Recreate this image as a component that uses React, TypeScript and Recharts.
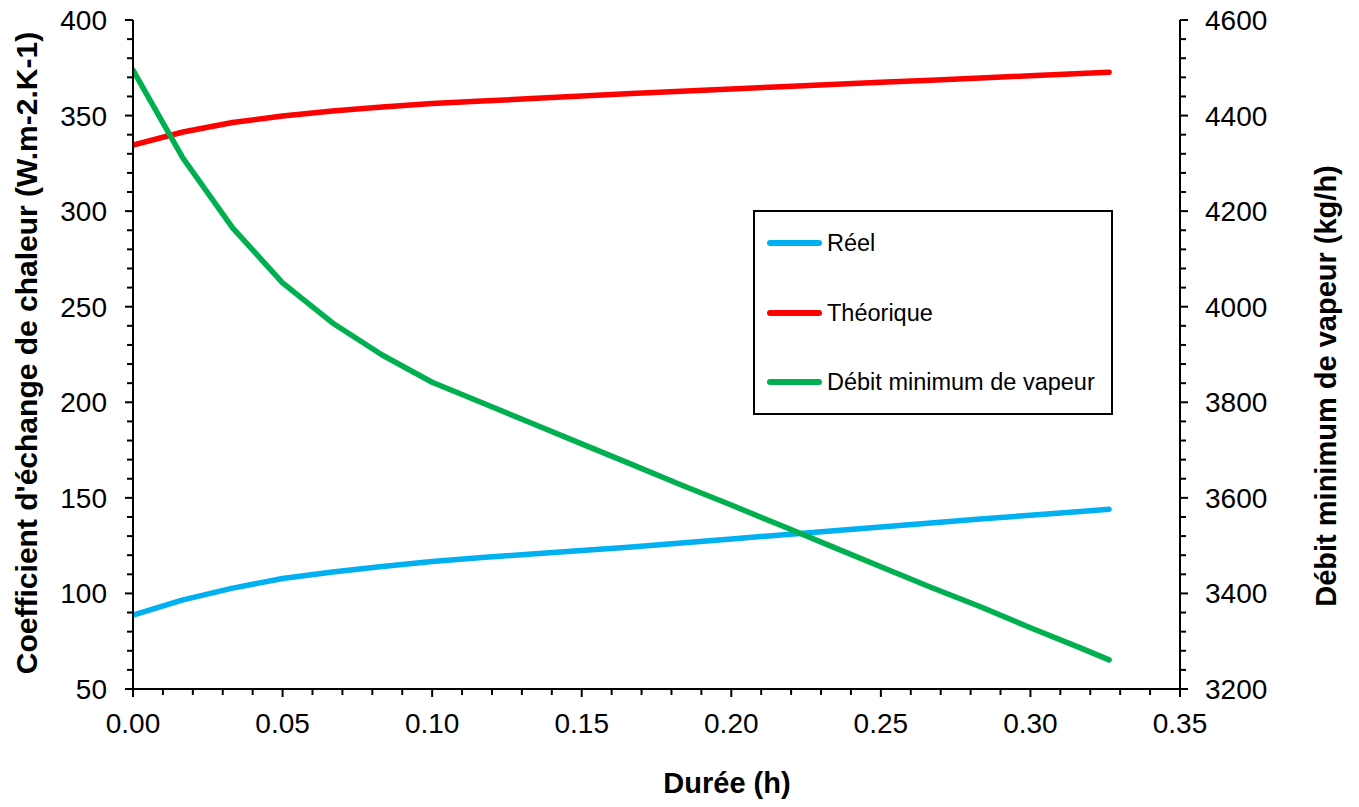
import { LineChart, Line, XAxis, YAxis, Legend } from 'recharts'

// Durée (h) : un point par minute, dernier point à ~19.6 min
const duree = [0, 0.0167, 0.0333, 0.05, 0.0667, 0.0833, 0.1, 0.1167, 0.1333, 0.15, 0.1667,
  0.1833, 0.2, 0.2167, 0.2333, 0.25, 0.2667, 0.2833, 0.3, 0.3167, 0.3263]

// Coefficient d'échange (W.m-2.K-1)
const reel = [88.7, 96.6, 102.8, 107.8, 111.2, 114.1, 116.7, 118.8, 120.6, 122.5, 124.3,
  126.4, 128.5, 130.6, 132.7, 134.8, 136.8, 138.9, 140.9, 142.9, 144.0]
const theorique = [334.6, 341.4, 346.4, 349.8, 352.4, 354.5, 356.3, 357.6, 358.9, 360.2, 361.5,
  362.7, 363.9, 365.1, 366.2, 367.4, 368.5, 369.7, 370.8, 372.0, 372.7]

// Débit minimum de vapeur (kg/h)
const debit = [4495, 4311, 4165, 4050, 3966, 3899, 3842, 3799, 3756, 3713, 3670,
  3627, 3585, 3542, 3499, 3456, 3413, 3372, 3328, 3286, 3261]

const seriesNames = ['Réel', 'Théorique', 'Débit minimum de vapeur']

const xTicks = [0, 0.01, 0.02, 0.03, 0.04, 0.05, 0.06, 0.07, 0.08, 0.09, 0.1, 0.11, 0.12,
  0.13, 0.14, 0.15, 0.16, 0.17, 0.18, 0.19, 0.2, 0.21, 0.22, 0.23, 0.24, 0.25, 0.26, 0.27,
  0.28, 0.29, 0.3, 0.31, 0.32, 0.33, 0.34, 0.35]
const leftTicks = [50, 60, 70, 80, 90, 100, 110, 120, 130, 140, 150, 160, 170, 180, 190, 200,
  210, 220, 230, 240, 250, 260, 270, 280, 290, 300, 310, 320, 330, 340, 350, 360, 370, 380,
  390, 400]
const rightTicks = [3200, 3240, 3280, 3320, 3360, 3400, 3440, 3480, 3520, 3560, 3600, 3640,
  3680, 3720, 3760, 3800, 3840, 3880, 3920, 3960, 4000, 4040, 4080, 4120, 4160, 4200, 4240,
  4280, 4320, 4360, 4400, 4440, 4480, 4520, 4560, 4600]

const data = duree.map((t, i) => ({
  t,
  reel: reel[i],
  theorique: theorique[i],
  debit: debit[i],
}))

const FONT = '"Liberation Sans", Arial, sans-serif'
const isMajor = (v: number, step: number) => Math.abs(v / step - Math.round(v / step)) < 1e-6

function XTick({ x, y, payload }: any) {
  const major = isMajor(payload.value, 0.05)
  return (
    <g>
      <line x1={x} x2={x} y1={y} y2={y + (major ? 8 : 6)} stroke="#000" strokeWidth={2} />
      {major && (
        <text x={x} y={y + 44} textAnchor="middle" fontSize={28} fontFamily={FONT} fill="#000">
          {payload.value.toFixed(2)}
        </text>
      )}
    </g>
  )
}

function LeftTick({ x, y, payload }: any) {
  const major = isMajor(payload.value, 50)
  return (
    <g>
      <line x1={x - (major ? 8 : 6)} x2={x} y1={y} y2={y} stroke="#000" strokeWidth={2} />
      {major && (
        <text x={x - 26} y={y + 10} textAnchor="end" fontSize={28} fontFamily={FONT} fill="#000">
          {payload.value}
        </text>
      )}
    </g>
  )
}

function RightTick({ x, y, payload }: any) {
  const major = isMajor(payload.value, 200)
  return (
    <g>
      <line x1={x} x2={x + (major ? 8 : 6)} y1={y} y2={y} stroke="#000" strokeWidth={2} />
      {major && (
        <text x={x + 25} y={y + 10} textAnchor="start" fontSize={28} fontFamily={FONT} fill="#000">
          {payload.value}
        </text>
      )}
    </g>
  )
}

function LegendBox({ payload }: any) {
  const rows = [31, 101, 170]
  const items = [...(payload || [])].sort(
    (a: any, b: any) => seriesNames.indexOf(a.value) - seriesNames.indexOf(b.value),
  )
  return (
    <div style={{
      position: 'relative', width: 360, height: 205, boxSizing: 'border-box',
      border: '2px solid #000', background: '#fff', fontFamily: FONT,
    }}>
      {items.map((p: any, i: number) => (
        <div key={p.value} style={{ position: 'absolute', left: 0, top: rows[i], width: '100%' }}>
          <span style={{
            position: 'absolute', left: 12, top: -3, width: 55, height: 6,
            borderRadius: 3, background: p.color,
          }} />
          <span style={{
            position: 'absolute', left: 72, top: -14, fontSize: 23.5, lineHeight: '28px',
            color: '#000', whiteSpace: 'nowrap',
          }}>
            {p.value}
          </span>
        </div>
      ))}
    </div>
  )
}

export default function App() {
  return (
    <div style={{ position: 'absolute', left: 0, top: 0, width: 1359, height: 807, background: '#fff' }}>
      <LineChart width={1359} height={807} data={data} margin={{ top: 20, right: 0, bottom: 0, left: 0 }}>
        <XAxis
          dataKey="t"
          type="number"
          domain={[0, 0.35]}
          ticks={xTicks}
          interval={0}
          tick={<XTick />}
          tickLine={false}
          tickSize={0}
          tickMargin={0}
          height={118}
          axisLine={{ stroke: '#000', strokeWidth: 2 }}
          allowDataOverflow
          label={{
            content: () => (
              <text x={727} y={793} textAnchor="middle" fontSize={29} fontWeight="bold" fontFamily={FONT} fill="#000">
                Durée (h)
              </text>
            ),
          }}
        />
        <YAxis
          yAxisId="left"
          domain={[50, 400]}
          ticks={leftTicks}
          interval={0}
          tick={<LeftTick />}
          tickLine={false}
          tickSize={0}
          tickMargin={0}
          width={133}
          axisLine={{ stroke: '#000', strokeWidth: 2 }}
          allowDataOverflow
          label={{
            content: () => (
              <text x={37} y={353} transform="rotate(-90 37 353)" textAnchor="middle" fontSize={30}
                fontWeight="bold" fontFamily={FONT} fill="#000">
                Coefficient d'échange de chaleur (W.m-2.K-1)
              </text>
            ),
          }}
        />
        <YAxis
          yAxisId="right"
          orientation="right"
          domain={[3200, 4600]}
          ticks={rightTicks}
          interval={0}
          tick={<RightTick />}
          tickLine={false}
          tickSize={0}
          tickMargin={0}
          width={179}
          axisLine={{ stroke: '#000', strokeWidth: 2 }}
          allowDataOverflow
          label={{
            content: () => (
              <text x={1336} y={386} transform="rotate(-90 1336 386)" textAnchor="middle" fontSize={29}
                fontWeight="bold" fontFamily={FONT} fill="#000">
                Débit minimum de vapeur (kg/h)
              </text>
            ),
          }}
        />
        <Legend
          layout="vertical"
          align="center"
          verticalAlign="middle"
          content={<LegendBox />}
          wrapperStyle={{ left: 753, top: 210, width: 360, height: 205 }}
        />
        <Line yAxisId="left" dataKey="reel" name="Réel" type="linear" stroke="#00B0F0" strokeWidth={5.5}
          strokeLinecap="round" strokeLinejoin="round" dot={false} activeDot={false} isAnimationActive={false} />
        <Line yAxisId="left" dataKey="theorique" name="Théorique" type="linear" stroke="#FF0000" strokeWidth={5.5}
          strokeLinecap="round" strokeLinejoin="round" dot={false} activeDot={false} isAnimationActive={false} />
        <Line yAxisId="right" dataKey="debit" name="Débit minimum de vapeur" type="linear" stroke="#00B050" strokeWidth={5.5}
          strokeLinecap="round" strokeLinejoin="round" dot={false} activeDot={false} isAnimationActive={false} />
      </LineChart>
    </div>
  )
}
